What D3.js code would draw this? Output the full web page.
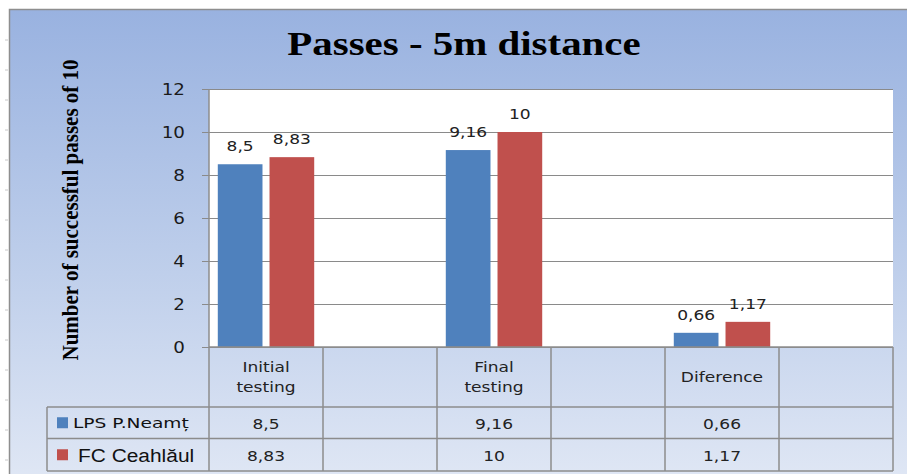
<!DOCTYPE html>
<html>
<head>
<meta charset="utf-8">
<script src="https://cdn.jsdelivr.net/npm/d3@7"></script>
<style>
  body { margin: 0; background: #ffffff; }
</style>
</head>
<body>
<div id="graf"></div>
<script>
// Passes - 5m distance

// Datos
categorias = ['Initial\ntesting', '', 'Final\ntesting', '', 'Diference', '']
series     = ['LPS P.Neamț', 'FC Ceahlăul']
lps        = [8.5, null, 9.16, null, 0.66, null]
fc         = [8.83, null, 10, null, 1.17, null]
yticks     = [0, 2, 4, 6, 8, 10, 12]

colores = ['#4f81bd', '#c0504d']
valores = [lps, fc]

ancho_total = 907
alto_total  = 474

// area del grafico (plot)
plot = { left: 209, right: 893, top: 89, bottom: 347 }
// filas de la tabla
filas = { head: 407, r1: 438.5, r2: 471, legend: 47 }

// la imagen original esta estirada a lo ancho
sx = 1.22

coma = v => String(v).replace('.', ',')

svg = d3.select('#graf').append('svg')
        .attr('width', ancho_total)
        .attr('height', alto_total)
        .style('display', 'block')

defs = svg.append('defs')
grad = defs.append('linearGradient')
        .attr('id', 'fondo')
        .attr('x1', 0).attr('y1', 0)
        .attr('x2', 0).attr('y2', 1)
grad.append('stop').attr('offset', '0%').attr('stop-color', '#99b2e0')
grad.append('stop').attr('offset', '55%').attr('stop-color', '#bfcfeb')
grad.append('stop').attr('offset', '100%').attr('stop-color', '#e1e8f5')

// marco exterior
svg.append('rect')
  .attr('x', 9.5)
  .attr('y', 9.5)
  .attr('width', 920)
  .attr('height', 480)
  .attr('fill', 'url(#fondo)')
  .attr('stroke', '#8e8e8e')
  .attr('stroke-width', 1.5)

// marcas de regla a la izquierda
d3.range(40, 470, 30).forEach(v => {
  svg.append('line')
    .attr('x1', 5).attr('x2', 8)
    .attr('y1', v).attr('y2', v)
    .attr('stroke', '#c8c8c8')
})

// titulo
svg.append('text')
  .attr('transform', `translate(464, 55) scale(1.24, 1)`)
  .attr('text-anchor', 'middle')
  .attr('font-family', 'Liberation Serif')
  .attr('font-weight', 'bold')
  .attr('font-size', '33px')
  .attr('fill', '#000000')
  .text('Passes - 5m distance')

// etiqueta eje y
svg.append('text')
  .attr('transform', `translate(78, 210) scale(1.1, 1) rotate(-90)`)
  .attr('text-anchor', 'middle')
  .attr('font-family', 'Liberation Serif')
  .attr('font-weight', 'bold')
  .attr('font-size', '21px')
  .attr('fill', '#000000')
  .text('Number of successful passes of 10')

// Escaladores
x = d3.scaleBand()
      .domain(d3.range(categorias.length))
      .range([plot.left, plot.right])
xs = d3.scaleBand()
      .domain(d3.range(series.length))
      .range([0, x.bandwidth()])
      .paddingInner(0.136)
      .paddingOuter(0.17)
y = d3.scaleLinear()
      .domain([0, 12])
      .range([plot.bottom, plot.top])

// fondo del plot
svg.append('rect')
  .attr('x', plot.left)
  .attr('y', plot.top)
  .attr('width', plot.right - plot.left)
  .attr('height', plot.bottom - plot.top)
  .attr('fill', '#ffffff')

// rejilla
svg.append('g')
  .attr('transform', `translate(${plot.left}, 0)`)
  .call(d3.axisLeft(y).tickValues(yticks).tickFormat('').tickSize(-(plot.right - plot.left)))
  .call(g => g.select('.domain').remove())
  .call(g => g.selectAll('line').attr('stroke', '#8a8a8a'))

// eje y
yAxis = svg.append('g')
  .attr('transform', `translate(${plot.left}, 0)`)
  .call(d3.axisLeft(y).tickValues(yticks).tickSize(7).tickPadding(4))
yAxis.select('.domain').remove()
yAxis.selectAll('line').attr('stroke', '#8a8a8a')
yAxis.selectAll('text')
  .attr('font-family', 'DejaVu Sans')
  .attr('font-size', '15px')
  .attr('fill', '#1a1a1a')
  .attr('x', null)
  .attr('dy', null)
  .attr('transform', d => `translate(-24, 5) scale(${sx}, 1)`)

// barras
valores.forEach((serie, s) => {
  datos = serie.map((v, i) => ({ i: i, v: v })).filter(d => d.v != null)

  svg.selectAll('.bar' + s)
    .data(datos)
    .enter()
    .append('rect')
      .attr('class', 'bar' + s)
      .attr('x', d => x(d.i) + xs(s))
      .attr('y', d => y(d.v))
      .attr('width', xs.bandwidth())
      .attr('height', d => y(0) - y(d.v))
      .attr('fill', colores[s])

  svg.selectAll('.lab' + s)
    .data(datos)
    .enter()
    .append('text')
      .attr('class', 'lab' + s)
      .attr('transform', d => `translate(${x(d.i) + xs(s) + xs.bandwidth() / 2}, ${y(d.v) - 13}) scale(${sx}, 1)`)
      .attr('text-anchor', 'middle')
      .attr('font-family', 'DejaVu Sans')
      .attr('font-size', '14px')
      .attr('fill', '#222222')
      .text(d => coma(d.v))
})

// tabla de datos
lineas = svg.append('g')
            .attr('stroke', '#8c8c8c')
            .attr('stroke-width', 1.5)

// horizontales
lineas.append('line')
  .attr('x1', plot.left).attr('x2', plot.right)
  .attr('y1', plot.bottom).attr('y2', plot.bottom)
;[filas.head, filas.r1, filas.r2].forEach(v => {
  lineas.append('line')
    .attr('x1', filas.legend).attr('x2', plot.right)
    .attr('y1', v).attr('y2', v)
})
// verticales
lineas.append('line')
  .attr('x1', filas.legend).attr('x2', filas.legend)
  .attr('y1', filas.head).attr('y2', filas.r2)
lineas.append('line')
  .attr('x1', plot.left).attr('x2', plot.left)
  .attr('y1', plot.top).attr('y2', filas.r2)
categorias.forEach((c, i) => {
  lineas.append('line')
    .attr('x1', x(i) + x.bandwidth()).attr('x2', x(i) + x.bandwidth())
    .attr('y1', plot.bottom).attr('y2', filas.r2)
})

// encabezados
categorias.forEach((c, i) => {
  if (!c) return
  partes = c.split('\n')
  t = svg.append('text')
    .attr('transform', `translate(${x(i) + x.bandwidth() / 2}, ${(plot.bottom + filas.head) / 2 + 5 - (partes.length - 1) * 10.5}) scale(${sx}, 1)`)
    .attr('text-anchor', 'middle')
    .attr('font-family', 'DejaVu Sans')
    .attr('font-size', '14px')
    .attr('fill', '#222222')
  partes.forEach((p, k) => {
    t.append('tspan')
      .attr('x', 0)
      .attr('dy', k == 0 ? 0 : 21)
      .text(p)
  })
})

// valores de la tabla y leyenda
filasY = [[filas.head, filas.r1], [filas.r1, filas.r2]]
valores.forEach((serie, s) => {
  cy = (filasY[s][0] + filasY[s][1]) / 2

  serie.forEach((v, i) => {
    if (v == null) return
    svg.append('text')
      .attr('transform', `translate(${x(i) + x.bandwidth() / 2}, ${cy + 6}) scale(${sx}, 1)`)
      .attr('text-anchor', 'middle')
      .attr('font-family', 'DejaVu Sans')
      .attr('font-size', '14px')
      .attr('fill', '#222222')
      .text(coma(v))
  })

  svg.append('rect')
    .attr('x', 57)
    .attr('y', cy - 5.5)
    .attr('width', 11)
    .attr('height', 11)
    .attr('fill', colores[s])

  if (s == 0) {
    svg.append('text')
      .attr('transform', `translate(73, ${cy + 5}) scale(1.33, 1)`)
      .attr('font-family', 'DejaVu Sans')
      .attr('font-size', '14px')
      .attr('fill', '#111111')
      .text(series[s])
  } else {
    svg.append('text')
      .attr('transform', `translate(78, ${cy + 7}) scale(1.1, 1)`)
      .attr('font-family', 'Liberation Sans')
      .attr('font-size', '19px')
      .attr('fill', '#111111')
      .text(series[s])
  }
})
</script>
</body>
</html>
